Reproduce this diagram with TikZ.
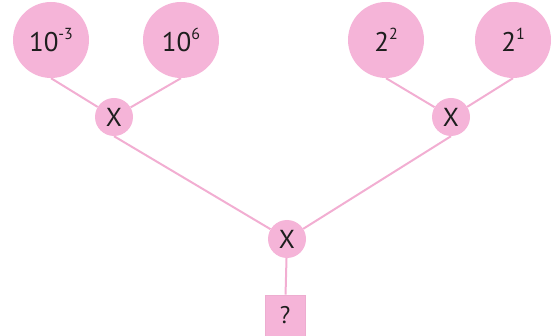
\documentclass[tikz,border=0pt]{standalone}
\usepackage{fontspec}
\usetikzlibrary{backgrounds}
\setmainfont{PT Sans}
\definecolor{pinkfill}{HTML}{F5B4D8}
\definecolor{pinkline}{HTML}{F2AED2}
\definecolor{ink}{HTML}{1E1E1E}
\newcommand{\sq}[1]{\raisebox{12pt}{\fontsize{16}{18}\selectfont #1}}
\begin{document}
\begin{tikzpicture}[x=1pt,y=-1pt,
  big/.style={circle,fill=pinkfill,minimum size=76pt,inner sep=0pt,text=ink,font=\fontsize{27}{30}\selectfont},
  op/.style={circle,fill=pinkfill,minimum size=38pt,inner sep=0pt,text=ink,font=\fontsize{26}{30}\selectfont},
  ans/.style={rectangle,fill=pinkfill,draw=pinkline!90!black!30!pinkfill,line width=0.6pt,minimum width=40pt,minimum height=41pt,inner sep=0pt,text=ink,font=\fontsize{24}{28}\selectfont},
  conn/.style={draw=pinkline,line width=2pt}]
\useasboundingbox (0,0) rectangle (559,336);
\node[big] (a) at (51,40) {10\sq{-3}};
\node[big] (b) at (181,40) {10\sq{6}};
\node[big] (c) at (386,40) {2\sq{2}};
\node[big] (d) at (513,40) {2\sq{1}};
\node[op] (m1) at (114,117) {X};
\node[op] (m2) at (451,117) {X};
\node[op] (m3) at (287,239) {X};
\node[ans] (q) at (285,315.5) {?};
\begin{scope}[on background layer]
\draw[conn] (a.south) -- (m1);
\draw[conn] (b.south) -- (m1);
\draw[conn] (c.south) -- (m2);
\draw[conn] (d.south) -- (m2);
\draw[conn] (m1.south) -- (m3);
\draw[conn] (m2.south) -- (m3);
\draw[conn] (m3) -- (q);
\end{scope}
\end{tikzpicture}
\end{document}
